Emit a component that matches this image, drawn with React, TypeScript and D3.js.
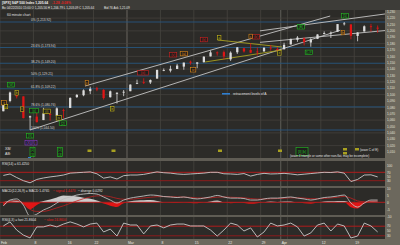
import React from 'react';
import * as d3 from 'd3';

// ---------- data (daily bars, Feb 1 .. Apr 22 2010) ----------
const opens = [1073.89,1090.05,1100.67,1097.25,1064.12,1065.51,1060.06,1069.68,1067.10,1075.95,1079.13,1096.14,1099.03,1105.49,1110.00,1107.49,1095.89,1101.24,1103.10,1105.36,1117.01,1119.36,1119.12,1125.12,1138.40,1137.56,1140.22,1143.96,1151.71,1148.53,1150.83,1159.94,1166.13,1166.68,1155.35,1166.47,1172.70,1170.03,1167.58,1167.71,1173.75,1171.75,1171.23,1178.71,1186.01,1188.23,1181.75,1187.47,1194.94,1195.94,1198.69,1210.77,1210.17,1192.06,1199.04,1207.16,1205.0];
const highs = [1089.38,1104.73,1102.72,1097.25,1067.13,1071.20,1079.28,1073.67,1080.04,1077.81,1095.67,1101.03,1108.24,1112.42,1112.29,1108.58,1106.42,1103.50,1107.24,1116.11,1123.46,1125.64,1123.73,1139.38,1141.05,1145.37,1148.26,1150.24,1153.41,1150.98,1160.28,1169.20,1167.77,1169.20,1167.82,1174.72,1173.04,1180.69,1173.93,1174.85,1177.83,1174.56,1181.43,1187.73,1191.80,1189.60,1188.55,1194.66,1199.20,1199.04,1210.65,1213.92,1210.17,1197.87,1208.58,1210.99,1208.5];
const lows = [1073.89,1087.96,1093.97,1062.78,1044.50,1056.51,1060.06,1059.34,1060.59,1062.97,1079.13,1094.72,1097.48,1100.80,1105.38,1092.18,1095.50,1086.02,1097.56,1105.36,1116.51,1116.58,1116.66,1125.12,1136.77,1134.90,1140.09,1138.99,1146.97,1141.45,1150.35,1159.94,1161.16,1155.33,1152.88,1163.83,1166.01,1165.09,1161.48,1167.71,1168.92,1169.15,1170.69,1178.71,1182.77,1177.25,1175.12,1187.15,1194.71,1188.82,1198.69,1208.50,1186.77,1183.68,1199.04,1198.85,1197.0];
const closes = [1089.19,1103.32,1097.28,1063.11,1066.19,1056.74,1070.52,1068.13,1078.47,1075.51,1094.87,1099.51,1106.75,1109.17,1108.01,1094.60,1105.24,1102.94,1104.49,1115.71,1118.31,1118.79,1122.97,1138.70,1138.50,1140.45,1145.61,1150.24,1149.99,1150.51,1159.46,1166.21,1165.83,1159.90,1165.81,1174.17,1167.72,1165.73,1166.59,1173.22,1173.27,1169.43,1178.10,1187.44,1189.44,1182.45,1186.44,1194.37,1196.48,1197.30,1210.65,1211.67,1192.13,1197.52,1207.17,1205.94,1203.5];

const rsi = [55,62,45,30,20,36,43,48,52,57,66,68,70,72,63,42,48,38,54,57,57,60,66,72,68,66,62,60,62,64,66,70,70,63,62,60,64,52,60,65,62,63,65,62,58,61,64,67,70,69,72,66,26,36,57,58,48];
const macd = [-2.6,1.6,2.4,-2,-10,-8.5,-5.5,-3.5,-0.5,2.4,3.8,5.2,5.9,6.3,5.9,3.8,1.6,-0.5,1.6,3,3.8,4.5,5.2,4.9,4.1,3.8,3.4,3.8,3,2.4,3,3.8,4.9,3.8,3,3,2.7,1.6,1.6,2.4,3,3,3.4,3.8,3,2.4,1.6,2.4,3.4,3.8,4.5,5.2,-0.5,-3.4,-0.5,1.6,1.6];
const signal = [0,0.5,1.2,-0.5,-5,-6.5,-6.5,-5.5,-4,-2.5,-0.8,1,2.6,3.8,4.6,4.6,4,2.8,2.2,2.2,2.6,3.1,3.6,4,4.1,4,3.8,3.7,3.5,3.1,3,3.2,3.7,3.8,3.6,3.4,3.2,2.7,2.3,2.3,2.5,2.7,2.9,3.2,3.2,3,2.6,2.5,2.8,3.1,3.6,4.2,3,1,0.4,0.7,1];
const stoch = [71,88,54,33,21,67,67,75,67,79,88,79,67,79,83,46,58,29,83,75,75,38,71,75,63,75,79,79,71,71,71,54,29,54,83,75,50,63,25,46,83,71,75,83,67,29,42,75,83,50,79,71,21,29,83,71,46];

const tickDays = [0,5,10,14,19,24,29,34,39,42,48,53];
const tickLabels = ['Feb','8','16','22','Mar','8','15','22','29','Apr','12','19'];
const weekDays = [0,5,10,14,19,24,29,34,39,43,48,53];
const monthDays = [19,42];

const fibRatios = [0,23.6,38.2,50,61.8,78.6,100];
const fibHigh = 1213.92;
const fibLow = 1044.5;

const priceTicks = d3.range(1010,1231,10);
const rsiTicks = [100,70,50,30];
const macdTicks = [10,5,0,-5,-10];
const stTicks = [70,50,30];

// annotation lines [day0, price0, day1, price1]
const channelLines = [
  [4.49,1044.5,50.9,1201.0],
  [12.72,1113.5,49.4,1223.3],
  [38.9,1182.0,57.6,1200.5],
  [38.9,1200.0,57.6,1226.5],
];
const triangleLines = [
  [32.6,1185.7,42.2,1174.7],
  [30.7,1151.2,42.2,1170.0],
];

const labelText = ['ii','a','[W]','b','c','[ii]','(i)','[X]','iv','[2]','b','c','(iii)','(v)','(b)','a','c','e','[B]','D-P','[5]','b','(b)','iv','(a)'];
const labelDay = [0.6,0.9,1.65,2.5,3.3,5.1,7.0,4.5,8.8,9.4,16.8,13.0,21.4,25.9,38.3,32.8,37.5,41.8,45,46.2,51.6,51.3,30.5,28.9,27.5];
const labelPrice = [1086.9,1081,1115.1,1102.5,1077.0,1074.5,1073.5,1035.1,1063.2,1055.0,1077.4,1118.2,1133.9,1162.2,1190.4,1189,1191,1165,1206,1166,1223.3,1197,1186,1138.6,1164];
const labelColor = ['#e08a1a','#c8b818','#22c022','#c8b818','#c8b818','#22c022','#c8b818','#22c022','#c8b818','#22c022','#c8b818','#e08a1a','#d02020','#d02020','#d02020','#c8b818','#e08a1a','#c8b818','#22c022','#22c022','#22c022','#e08a1a','#d02020','#e08a1a','#e08a1a'];

const W = 400, H = 245;
const PLOT_R = 385;

export default function App() {
  const x = d3.scaleLinear().domain([0, 57.6]).range([0, PLOT_R]);
  const yP = d3.scaleLinear().domain([fibLow, fibHigh]).range([130, 22]);
  const yR = d3.scaleLinear().domain([0, 100]).range([187, 166]);
  const yM = d3.scaleLinear().domain([-10, 10]).range([216.3, 188.3]);
  const yS = d3.scaleLinear().domain([0, 100]).range([243, 219]);
  const bw = x(1) - x(0);
  const cx = (i: number) => x(i + 0.5);

  const bg = '#2c2b28';
  const grid = '#46443f';
  const axisBg = '#6c685d';
  const sepCol = '#5f5c54';
  const font = 'Liberation Sans, Arial, sans-serif';

  const rsiLine = d3.line<number>().x((_, i) => cx(i)).y(d => yR(d));
  const macdLine = d3.line<number>().x((_, i) => cx(i)).y(d => yM(d)).curve(d3.curveMonotoneX);
  const sigLine = d3.line<number>().x((_, i) => cx(i)).y(d => yM(d)).curve(d3.curveMonotoneX);
  const stLine = d3.line<number>().x((_, i) => cx(i)).y(d => yS(d));
  const hist = macd.map((m, i) => m - signal[i]);
  const histArea = d3.area<number>().x((_, i) => cx(i)).y0(yM(0)).y1(d => yM(d)).curve(d3.curveMonotoneX);

  const panels = [
    { y0: 10, y1: 158, id: 'main' },
    { y0: 161, y1: 186, id: 'rsi' },
    { y0: 188, y1: 215, id: 'macd' },
    { y0: 217, y1: 239, id: 'st' },
  ];
  const fibPrice = (r: number) => fibHigh - (r / 100) * (fibHigh - fibLow);
  const fibPct = (r: number) => (r % 1 === 0 ? String(r) : r.toFixed(1)) + '%';

  return (
    <svg width={W} height={H} style={{ position: 'absolute', left: 0, top: 0, display: 'block' }} fontFamily={font}>
      <defs>
        {panels.map(p => (
          <clipPath id={'clip-' + p.id} key={p.id}>
            <rect x={0} y={p.y0} width={PLOT_R} height={p.y1 - p.y0} />
          </clipPath>
        ))}
      </defs>
      <rect x={0} y={0} width={W} height={H} fill={bg} />
      {/* header */}
      <rect x={0} y={0} width={W} height={10} fill="#3d3c38" />
      <text x={2} y={4.2} fontSize={3.3} fill="#f0f0f0" fontWeight="bold">[SPX] S&amp;P 500 Index  1,205.64</text>
      <text x={52} y={4.2} fontSize={3.3} fill="#e02020" fontWeight="bold">-1.28   -0.08%</text>
      <text x={2} y={8.6} fontSize={3.1} fill="#e6e6e6">Bo 04/22/2010  15:00  O 1,205.56  H 1,206.79  L 1,203.09  C 1,205.64</text>
      <text x={104} y={8.6} fontSize={3.1} fill="#e6e6e6">Bid 76   Ask 1,21.09</text>

      {/* panel backgrounds & separators */}
      <rect x={0} y={158} width={W} height={3} fill={sepCol} />
      <rect x={0} y={186} width={W} height={2} fill={sepCol} />
      <rect x={0} y={215} width={W} height={2} fill={sepCol} />
      <rect x={0} y={239} width={W} height={6} fill={axisBg} />
      <rect x={PLOT_R} y={10} width={W - PLOT_R} height={H - 10} fill={axisBg} />

      {/* vertical grid */}
      {panels.map(p => (
        <g key={'vg' + p.id}>
          {weekDays.map(d => (
            <line key={d} x1={x(d)} x2={x(d)} y1={p.y0} y2={p.y1} stroke={grid} strokeWidth={0.8} />
          ))}
          {monthDays.map(d => (
            <line key={'m' + d} x1={x(d)} x2={x(d)} y1={p.y0} y2={p.y1} stroke="#5c5a54" strokeWidth={1.1} />
          ))}
        </g>
      ))}

      {/* main panel */}
      <g clipPath="url(#clip-main)">
        {priceTicks.filter(t => t % 20 === 0).map(t => (
          <line key={t} x1={0} x2={PLOT_R} y1={yP(t)} y2={yP(t)} stroke={grid} strokeWidth={0.7} />
        ))}
        {fibRatios.map(r => (
          <line key={r} x1={0} x2={PLOT_R} y1={yP(fibPrice(r))} y2={yP(fibPrice(r))} stroke="#27567f" strokeWidth={0.9} />
        ))}
        {fibRatios.map(r => (
          <text key={'t' + r} x={31} y={yP(fibPrice(r)) - 0.6} fontSize={3.2} fill="#d8d8d8">
            {fibPct(r)} ({d3.format(',.2f')(fibPrice(r))})
          </text>
        ))}
        {channelLines.map((l, i) => (
          <line key={'c' + i} x1={x(l[0])} y1={yP(l[1])} x2={x(l[2])} y2={yP(l[3])} stroke="#c4c4c4" strokeWidth={0.9} />
        ))}
        {triangleLines.map((l, i) => (
          <line key={'tr' + i} x1={x(l[0])} y1={yP(l[1])} x2={x(l[2])} y2={yP(l[3])} stroke="#a8a020" strokeWidth={0.9} />
        ))}
        {/* candles */}
        {closes.map((c, i) => {
          const up = c >= opens[i];
          const col = up ? '#dcdcdc' : '#e01515';
          const top = yP(Math.max(c, opens[i]));
          const bot = yP(Math.min(c, opens[i]));
          return (
            <g key={'k' + i}>
              <line x1={cx(i)} x2={cx(i)} y1={yP(highs[i])} y2={yP(lows[i])} stroke={col} strokeWidth={0.8} />
              <rect x={cx(i) - bw * 0.17} y={top} width={bw * 0.34} height={Math.max(0.8, bot - top)} fill={col} />
            </g>
          );
        })}
        {labelText.map((t, i) => {
          const w = t.length * 1.9 + 1.5;
          const lx = x(labelDay[i]);
          const ly = yP(labelPrice[i]);
          return (
            <g key={'l' + i}>
              <rect x={lx - w / 2} y={ly - 2.4} width={w} height={4.4} fill="#1e1e1c" stroke={labelColor[i]} strokeWidth={0.6} />
              <text x={lx} y={ly + 1.2} fontSize={3.3} fill={labelColor[i]} textAnchor="middle">{t}</text>
            </g>
          );
        })}
        <text x={x(51.8)} y={yP(1232)} fontSize={4.5} fill="#3a8ad8" textAnchor="middle">▲</text>
        <text x={7} y={16} fontSize={3.4} fill="#e0e0e0">60 minute chart</text>
        <rect x={222} y={93} width={8} height={1.6} fill="#2f7fd0" />
        <text x={233} y={95} fontSize={3.3} fill="#e0e0e0">retracement levels of A</text>
        {/* lower strip annotations */}
        <text x={5} y={150} fontSize={3.6} fill="#e0e0e0">XB/</text>
        <text x={5} y={155} fontSize={3.6} fill="#e0e0e0">AB:</text>
        <rect x={25} y={140.5} width={12} height={4.5} fill="#1e1e1c" stroke="#8a3ad0" strokeWidth={0.6} />
        <text x={31} y={144} fontSize={3.3} fill="#a050e8" textAnchor="middle">(X)(X)</text>
        {[32.5, 60].map(gx => (
          <g key={'g' + gx}>
            <rect x={gx - 2.5} y={147.5} width={5} height={9} fill="#1e1e1c" stroke="#22c022" strokeWidth={0.6} />
            <text x={gx} y={151} fontSize={3} fill="#22c022" textAnchor="middle">[2]</text>
            <text x={gx} y={155.5} fontSize={3} fill="#22c022" textAnchor="middle">[3]</text>
          </g>
        ))}
        {[89.5, 113.5, 220, 280].map(gx => (
          <rect key={'y' + gx} x={gx - 2} y={149.5} width={4} height={2.5} fill="#a8a020" />
        ))}
        <rect x={296} y={147.5} width={12} height={8} fill="#1e1e1c" stroke="#22c022" strokeWidth={0.6} />
        <text x={302} y={153} fontSize={3.3} fill="#22c022" textAnchor="middle">[3] [b]</text>
        <rect x={343} y={148} width={4} height={2.5} fill="#a8a020" />
        <rect x={343} y={152} width={4} height={2.5} fill="#a8a020" />
        <rect x={355} y={148} width={4} height={2.5} fill="#a8a020" />
        <text x={360} y={150.5} fontSize={3} fill="#e0e0e0">(wave C of E)</text>
        <text x={290} y={157} fontSize={3} fill="#e0e0e0">(wave 4 triangle or some other non-flat, may be incomplete)</text>
        <rect x={28} y={157} width={3} height={1.5} fill="#2f7fd0" />
      </g>

      {/* RSI panel */}
      <g clipPath="url(#clip-rsi)">
        <line x1={0} x2={PLOT_R} y1={yR(70)} y2={yR(70)} stroke="#b01c1c" strokeWidth={1} />
        <line x1={0} x2={PLOT_R} y1={yR(30)} y2={yR(30)} stroke="#8c1c1c" strokeWidth={1} />
        <path d={rsiLine(rsi) || ''} fill="none" stroke="#c8c8c8" strokeWidth={0.9} />
        <text x={2} y={164.5} fontSize={3.3} fill="#e0e0e0">RSI(14) = 61.4250</text>
      </g>

      {/* MACD panel */}
      <g clipPath="url(#clip-macd)">
        <path d={histArea(hist.map(h => (h > 0 ? h : 0))) || ''} fill="#e8e8e8" opacity={0.85} />
        <path d={histArea(hist.map(h => (h < 0 ? h : 0))) || ''} fill="#e01515" />
        <line x1={0} x2={PLOT_R} y1={yM(0)} y2={yM(0)} stroke="#b01c1c" strokeWidth={1} />
        <path d={sigLine(signal) || ''} fill="none" stroke="#c02020" strokeWidth={0.8} />
        <path d={macdLine(macd) || ''} fill="none" stroke="#bdbdbd" strokeWidth={0.9} />
        <text x={2} y={191.5} fontSize={3.3} fill="#e0e0e0">MACD(12,26,9) = MACD 1.4765</text>
        <text x={53} y={191.5} fontSize={3.3} fill="#e02020">~ signal 1.4473</text>
        <text x={78} y={191.5} fontSize={3.3} fill="#e0e0e0">~ diverge 0.0292</text>
      </g>

      {/* Stoch panel */}
      <g clipPath="url(#clip-st)">
        <line x1={0} x2={PLOT_R} y1={yS(70)} y2={yS(70)} stroke="#b01c1c" strokeWidth={1} />
        <line x1={0} x2={PLOT_R} y1={yS(30)} y2={yS(30)} stroke="#8c1c1c" strokeWidth={1} />
        <path d={stLine(stoch) || ''} fill="none" stroke="#c8c8c8" strokeWidth={0.9} />
        <text x={2} y={220.5} fontSize={3.3} fill="#e0e0e0">RSI(4,3) = fast 21.8604</text>
        <text x={44} y={220.5} fontSize={3.3} fill="#e02020">~ slow 24.8604</text>
      </g>

      {/* right axis labels */}
      {priceTicks.map(t => (
        <text key={'pt' + t} x={387} y={yP(t) + 1.2} fontSize={3.2} fill="#e4e2da">{d3.format(',')(t)}</text>
      ))}
      {rsiTicks.map(t => (
        <text key={'rt' + t} x={387} y={yR(t) + 1.2} fontSize={3.2} fill="#e4e2da">{t}</text>
      ))}
      {macdTicks.map(t => (
        <text key={'mt' + t} x={387} y={yM(t) + 1.2} fontSize={3.2} fill="#e4e2da">{t}</text>
      ))}
      {stTicks.map(t => (
        <text key={'st' + t} x={387} y={yS(t) + 1.2} fontSize={3.2} fill="#e4e2da">{t}</text>
      ))}

      {/* x axis labels */}
      {tickDays.map((d, i) => (
        <text key={'xt' + i} x={x(d) + 1} y={243.8} fontSize={3.4} fill="#ecebe4">{tickLabels[i]}</text>
      ))}
    </svg>
  );
}
